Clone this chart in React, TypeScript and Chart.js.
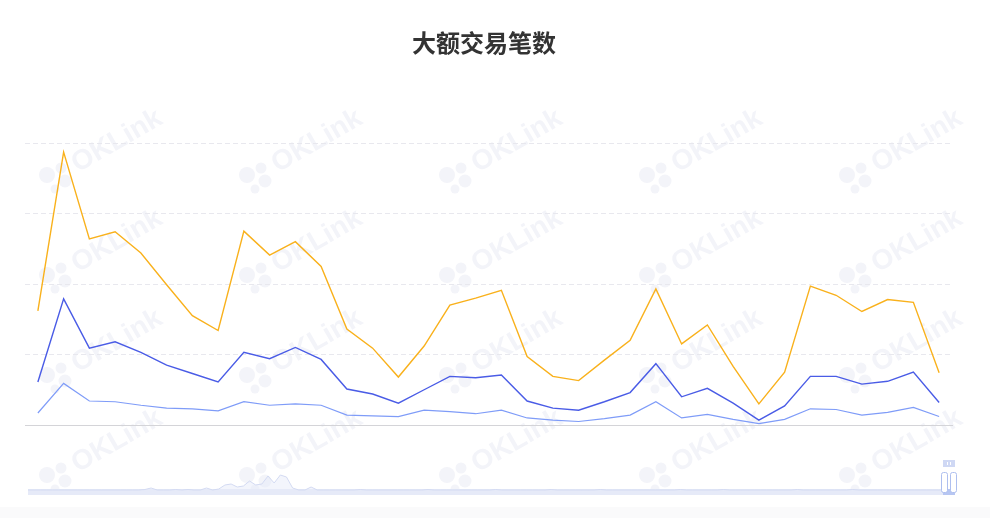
import React, { useEffect, useRef } from "react";
import { Chart, registerables } from "chart.js";

Chart.register(...registerables);

const TITLE = "大额交易笔数";

const categories = [
  "2023-01-01", "2023-01-02", "2023-01-03", "2023-01-04", "2023-01-05", "2023-01-06",
  "2023-01-07", "2023-01-08", "2023-01-09", "2023-01-10", "2023-01-11", "2023-01-12",
  "2023-01-13", "2023-01-14", "2023-01-15", "2023-01-16", "2023-01-17", "2023-01-18",
  "2023-01-19", "2023-01-20", "2023-01-21", "2023-01-22", "2023-01-23", "2023-01-24",
  "2023-01-25", "2023-01-26", "2023-01-27", "2023-01-28", "2023-01-29", "2023-01-30",
  "2023-01-31", "2023-02-01", "2023-02-02", "2023-02-03", "2023-02-04", "2023-02-05",
];

const seriesHigh = [
  162, 387, 264, 274, 244, 199, 155, 134, 275, 241, 260, 225,
  136, 109, 68, 112, 170, 180, 191, 97, 69, 63, 92, 120,
  193, 115, 142, 83, 30, 75, 197, 184, 161, 178, 174, 74,
];

const seriesMid = [
  61, 179, 109, 118, 103, 85, 73, 61, 103, 94, 110, 93,
  51, 44, 31, 50, 69, 67, 71, 34, 24, 21, 33, 46,
  87, 40, 52, 31, 7, 27, 69, 69, 58, 62, 75, 32,
];

const seriesLow = [
  17, 59, 34, 33, 28, 24, 23, 20, 33, 28, 30, 28,
  14, 13, 12, 21, 19, 16, 21, 10, 7, 5, 9, 14,
  33, 10, 15, 8, 2, 8, 23, 22, 14, 18, 25, 12,
];

const seriesNames = ["交易笔数 A", "交易笔数 B", "交易笔数 C"];

const yTicks = [0, 100, 200, 300, 400];

const overview = [
  5, 5, 5, 5, 5, 5, 5, 5, 5, 5,
  5, 5, 5, 5, 5, 5, 5, 5, 5, 5.5,
  7, 5, 5, 5, 5.5, 5, 5.5, 5, 5, 7,
  5, 6, 10, 11, 8, 9, 14, 10, 11, 19,
  12, 20, 18, 7, 5, 5, 8, 5, 5, 5,
  5, 5, 5, 5, 5.5, 5, 5, 5, 5, 5,
  5, 5, 5, 5, 5, 5.5, 5, 5, 5, 5,
  5, 5, 5, 5, 5, 5, 5.5, 5, 5, 5,
  5, 5, 5, 5, 5, 5.5, 5, 5, 5, 5,
  5, 5, 5, 5.5, 5, 5, 5, 5, 5, 5,
  5, 5, 5, 5, 5, 5, 5.5, 5, 5, 5,
  5, 5, 5, 5.5, 5, 5, 5, 5, 5, 5,
  5, 5, 5, 5, 5, 5.5, 5, 5, 5, 5,
  5, 5, 5, 5, 5.5, 5, 5, 5, 5, 5,
  5, 5, 5, 5, 5, 5, 5, 5, 5, 5,
];

const watermarkPlugin = {
  id: "watermark",
  beforeDraw(chart: any) {
    const ctx = chart.ctx;
    ctx.save();
    ctx.fillStyle = "#f3f4f9";
    for (let c = 0; c < 5; c++) {
      for (let r = 0; r < 4; r++) {
        const x = 47 + 200 * c;
        const y = 175 + 100 * r;
        ctx.beginPath(); ctx.arc(x, y, 8, 0, Math.PI * 2); ctx.fill();
        ctx.beginPath(); ctx.arc(x + 14, y - 7, 5.5, 0, Math.PI * 2); ctx.fill();
        ctx.beginPath(); ctx.arc(x + 18, y + 6, 6.5, 0, Math.PI * 2); ctx.fill();
        ctx.beginPath(); ctx.arc(x + 8, y + 14, 4.5, 0, Math.PI * 2); ctx.fill();
        ctx.save();
        ctx.translate(x + 27, y - 9);
        ctx.rotate(-Math.PI / 6);
        ctx.font = "bold 28px 'Liberation Sans', Arial, sans-serif";
        ctx.textBaseline = "middle";
        ctx.fillText("OKLink", 0, 0);
        ctx.restore();
      }
    }
    ctx.restore();
  },
};

const bandPlugin = {
  id: "zoomBand",
  beforeDatasetsDraw(chart: any) {
    const ctx = chart.ctx;
    ctx.save();
    ctx.fillStyle = "#e8ecf8";
    ctx.fillRect(0, 489 - 455, 917, 6);
    ctx.restore();
  },
};

const handlePlugin = {
  id: "zoomHandle",
  afterDraw(chart: any) {
    const ctx = chart.ctx;
    const ox = -28;
    const oy = -455;
    ctx.save();
    ctx.fillStyle = "#cfd8f4";
    ctx.fillRect(943 + ox, 460 + oy, 12, 7);
    ctx.strokeStyle = "#ffffff";
    ctx.lineWidth = 1;
    ctx.beginPath();
    ctx.moveTo(947.5 + ox, 462 + oy); ctx.lineTo(947.5 + ox, 465 + oy);
    ctx.moveTo(950.5 + ox, 462 + oy); ctx.lineTo(950.5 + ox, 465 + oy);
    ctx.stroke();
    ctx.fillStyle = "#b7c6f2";
    ctx.fillRect(943 + ox, 489 + oy, 12, 6);
    ctx.strokeStyle = "#aebfef";
    ctx.fillStyle = "#ffffff";
    const rr = (x: number, y: number, w: number, h: number, r: number) => {
      ctx.beginPath();
      ctx.moveTo(x + r, y);
      ctx.lineTo(x + w - r, y);
      ctx.quadraticCurveTo(x + w, y, x + w, y + r);
      ctx.lineTo(x + w, y + h - r);
      ctx.quadraticCurveTo(x + w, y + h, x + w - r, y + h);
      ctx.lineTo(x + r, y + h);
      ctx.quadraticCurveTo(x, y + h, x, y + h - r);
      ctx.lineTo(x, y + r);
      ctx.quadraticCurveTo(x, y, x + r, y);
      ctx.closePath();
      ctx.fill();
      ctx.stroke();
    };
    rr(941.5 + ox, 472.5 + oy, 6, 20, 2);
    rr(950.5 + ox, 472.5 + oy, 6, 20, 2);
    ctx.restore();
  },
};

export default function App() {
  const mainRef = useRef<HTMLCanvasElement>(null);
  const ovRef = useRef<HTMLCanvasElement>(null);

  useEffect(() => {
    const main = new Chart(mainRef.current!, {
      type: "line",
      data: {
        labels: categories,
        datasets: [
          { label: seriesNames[0], data: seriesHigh, borderColor: "#f9b11c", borderWidth: 1.4, pointRadius: 0, tension: 0 },
          { label: seriesNames[1], data: seriesMid, borderColor: "#4a5ce6", borderWidth: 1.4, pointRadius: 0, tension: 0 },
          { label: seriesNames[2], data: seriesLow, borderColor: "#7f9cf8", borderWidth: 1.2, pointRadius: 0, tension: 0 },
        ],
      },
      options: {
        animation: false,
        responsive: false,
        layout: { padding: { left: 25, right: 38, top: 143, bottom: 93 } },
        plugins: { legend: { display: false }, tooltip: { enabled: false }, title: { display: false } },
        scales: {
          x: {
            offset: true,
            grid: { display: false },
            ticks: { display: false },
            border: { display: true, color: "#d4d4d8", width: 1 },
            afterFit: (s: any) => { s.height = 0; },
          },
          y: {
            min: yTicks[0],
            max: yTicks[yTicks.length - 1],
            afterBuildTicks: (s: any) => { s.ticks = yTicks.map((v) => ({ value: v })); },
            ticks: { display: false },
            grid: {
              drawTicks: false,
              color: (c: any) => (c.tick && c.tick.value === 0 ? "rgba(0,0,0,0)" : "#e8e8ee"),
            },
            border: { display: false, dash: [5, 3] },
            afterFit: (s: any) => { s.width = 0; },
          },
        },
      },
      plugins: [watermarkPlugin],
    } as any);

    const ov = new Chart(ovRef.current!, {
      type: "line",
      data: {
        labels: overview.map((_, i) => String(i)),
        datasets: [
          {
            data: overview,
            borderColor: "#d3daf2",
            borderWidth: 1,
            pointRadius: 0,
            fill: "origin",
            backgroundColor: "rgba(228,233,248,0.45)",
            tension: 0,
          },
        ],
      },
      options: {
        animation: false,
        responsive: false,
        layout: { padding: { left: 0, right: 13, top: 0, bottom: 0 } },
        plugins: { legend: { display: false }, tooltip: { enabled: false } },
        scales: {
          x: { display: false },
          y: { display: false, min: 0, max: 40 },
        },
      },
      plugins: [bandPlugin, handlePlugin],
    } as any);

    return () => {
      main.destroy();
      ov.destroy();
    };
  }, []);

  return (
    <div style={{ position: "absolute", left: 0, top: 0, width: 990, height: 518, background: "#ffffff", overflow: "hidden" }}>
      <div style={{ position: "absolute", left: 0, top: 507, width: 990, height: 11, background: "#fafafb" }} />
      <canvas ref={mainRef} width={990} height={518} style={{ position: "absolute", left: 0, top: 0 }} />
      <canvas ref={ovRef} width={930} height={40} style={{ position: "absolute", left: 28, top: 455 }} />
      <div
        style={{
          position: "absolute",
          left: 0,
          top: 30,
          width: 968,
          textAlign: "center",
          font: "bold 24px 'Noto Sans CJK SC', sans-serif",
          lineHeight: "24px",
          color: "#333333",
        }}
      >
        {TITLE}
      </div>
    </div>
  );
}
